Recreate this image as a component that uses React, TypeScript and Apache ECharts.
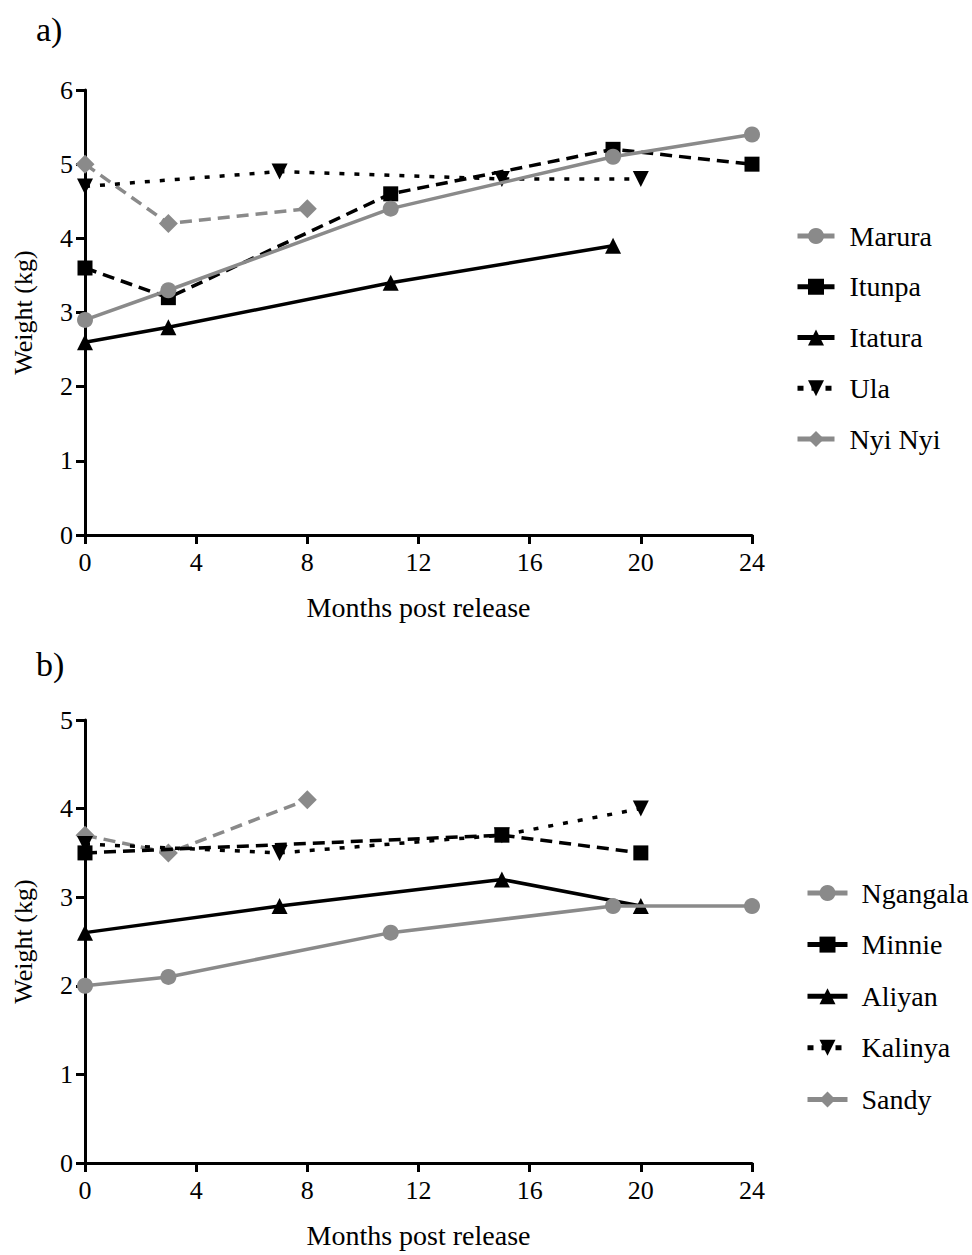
import React, { useEffect, useRef } from "react";
import * as echarts from "echarts";

const xTicksMax = 24;
const GRAY = "#8a8a8a";
const BLACK = "#000000";

// Panel a
const maruraData = [[0, 2.9], [3, 3.3], [11, 4.4], [19, 5.1], [24, 5.4]];
const itunpaData = [[0, 3.6], [3, 3.2], [11, 4.6], [19, 5.2], [24, 5.0]];
const itaturaData = [[0, 2.6], [3, 2.8], [11, 3.4], [19, 3.9]];
const ulaData = [[0, 4.7], [7, 4.9], [15, 4.8], [20, 4.8]];
const nyiNyiData = [[0, 5.0], [3, 4.2], [8, 4.4]];

// Panel b
const ngangalaData = [[0, 2.0], [3, 2.1], [11, 2.6], [19, 2.9], [24, 2.9]];
const minnieData = [[0, 3.5], [15, 3.7], [20, 3.5]];
const aliyanData = [[0, 2.6], [7, 2.9], [15, 3.2], [20, 2.9]];
const kalinyaData = [[0, 3.6], [7, 3.5], [15, 3.7], [20, 4.0]];
const sandyData = [[0, 3.7], [3, 3.5], [8, 4.1]];

const namesA = ["Marura", "Itunpa", "Itatura", "Ula", "Nyi Nyi"];
const namesB = ["Ngangala", "Minnie", "Aliyan", "Kalinya", "Sandy"];

const FONT = "'Liberation Serif', 'Times New Roman', serif";
const TICK_FS = 26;
const NAME_FS = 28;

const styles = [
  { color: GRAY, type: "solid", legendType: "solid", symbol: "circle", size: 16 },
  { color: BLACK, type: [12, 7], legendType: "solid", symbol: "rect", size: 15 },
  { color: BLACK, type: "solid", legendType: "solid", symbol: "triangle", size: 16 },
  { color: BLACK, type: [5, 10], legendType: [6, 8], symbol: "path://M0,0 L10,0 L5,10 Z", size: 16 },
  { color: GRAY, type: [12, 7], legendType: "solid", symbol: "diamond", size: 19 },
];

function mkSeries(name: string, data: number[][], idx: number, axisIdx: number) {
  const s = styles[idx];
  return {
    name,
    type: "line",
    xAxisIndex: axisIdx,
    yAxisIndex: axisIdx,
    data,
    symbol: s.symbol,
    symbolSize: s.size,
    showSymbol: true,
    itemStyle: { color: s.color },
    lineStyle: { color: s.color, width: 3.5, type: s.type as any },
    z: 10 - idx,
  };
}

function legendData(names: string[]) {
  return names.map((n, i) => ({
    name: n,
    lineStyle: { type: styles[i].legendType as any, width: 5 },
  }));
}

function xAxis(gridIndex: number) {
  return {
    type: "value",
    gridIndex,
    min: 0,
    max: xTicksMax,
    interval: 4,
    name: "Months post release",
    nameLocation: "middle",
    nameGap: 58,
    nameTextStyle: { fontFamily: FONT, fontSize: NAME_FS, color: "#000" },
    axisLine: { show: true, onZero: false, lineStyle: { color: "#000", width: 3 } },
    axisTick: { show: true, length: 9, lineStyle: { color: "#000", width: 3 } },
    axisLabel: { fontFamily: FONT, fontSize: TICK_FS, color: "#000", margin: 14 },
    splitLine: { show: false },
  };
}

function yAxis(gridIndex: number, max: number) {
  return {
    type: "value",
    gridIndex,
    min: 0,
    max,
    interval: 1,
    name: "Weight (kg)",
    nameLocation: "middle",
    nameGap: 49,
    nameRotate: 90,
    nameTextStyle: { fontFamily: FONT, fontSize: TICK_FS, color: "#000" },
    axisLine: { show: true, lineStyle: { color: "#000", width: 3 } },
    axisTick: { show: true, length: 9, lineStyle: { color: "#000", width: 3 } },
    axisLabel: { fontFamily: FONT, fontSize: TICK_FS, color: "#000", margin: 12 },
    splitLine: { show: false },
  };
}

export default function App() {
  const ref = useRef<HTMLDivElement>(null);
  useEffect(() => {
    if (!ref.current) return;
    const chart = echarts.init(ref.current, null, { renderer: "svg" });
    const option: any = {
      animation: false,
      backgroundColor: "#fff",
      textStyle: { fontFamily: FONT },
      title: [
        { text: "a)", left: 31, top: 7, textStyle: { fontFamily: FONT, fontSize: 34, fontWeight: "normal", color: "#000" } },
        { text: "b)", left: 31, top: 642, textStyle: { fontFamily: FONT, fontSize: 34, fontWeight: "normal", color: "#000" } },
      ],
      grid: [
        { left: 85, top: 90, width: 667, height: 445 },
        { left: 85, top: 720, width: 667, height: 443 },
      ],
      xAxis: [xAxis(0), xAxis(1)],
      yAxis: [yAxis(0, 6), yAxis(1, 5)],
      legend: [
        {
          data: legendData(namesA),
          orient: "vertical",
          left: 790,
          top: 217,
          itemWidth: 37,
          itemHeight: 20,
          itemGap: 22.75,
          textStyle: { fontFamily: FONT, fontSize: NAME_FS, color: "#000", lineHeight: 28, padding: [0, 0, 0, 10] },
        },
        {
          data: legendData(namesB),
          orient: "vertical",
          left: 800,
          top: 874,
          itemWidth: 40,
          itemHeight: 20,
          itemGap: 23.6,
          textStyle: { fontFamily: FONT, fontSize: NAME_FS, color: "#000", lineHeight: 28, padding: [0, 0, 0, 9] },
        },
      ],
      series: [
        mkSeries("Marura", maruraData, 0, 0),
        mkSeries("Itunpa", itunpaData, 1, 0),
        mkSeries("Itatura", itaturaData, 2, 0),
        mkSeries("Ula", ulaData, 3, 0),
        mkSeries("Nyi Nyi", nyiNyiData, 4, 0),
        mkSeries("Ngangala", ngangalaData, 0, 1),
        mkSeries("Minnie", minnieData, 1, 1),
        mkSeries("Aliyan", aliyanData, 2, 1),
        mkSeries("Kalinya", kalinyaData, 3, 1),
        mkSeries("Sandy", sandyData, 4, 1),
      ],
    };
    chart.setOption(option);
    return () => chart.dispose();
  }, []);
  return <div ref={ref} style={{ width: 972, height: 1255, position: "absolute", left: 0, top: 0 }} />;
}
